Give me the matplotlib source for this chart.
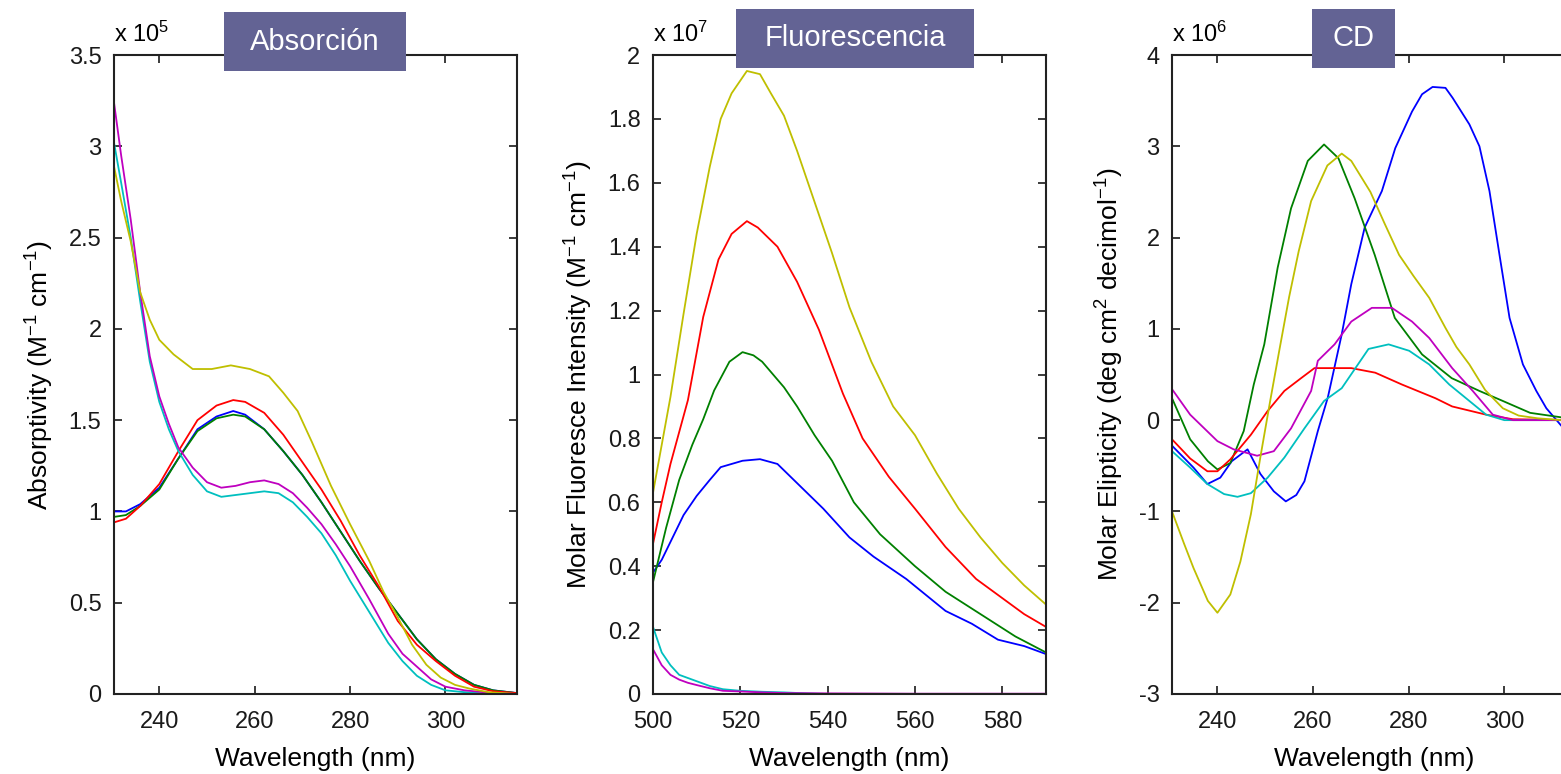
import matplotlib

matplotlib.use("Agg")
import matplotlib.pyplot as plt
from matplotlib.patches import Rectangle
from matplotlib.ticker import FuncFormatter

plt.rcParams["font.family"] = ["Liberation Sans", "DejaVu Sans"]
plt.rcParams["mathtext.fontset"] = "custom"
plt.rcParams["mathtext.rm"] = "Liberation Sans"
plt.rcParams["mathtext.default"] = "regular"

# MATLAB default line colours
colors = {"b": "#0000ff", "g": "#008000", "r": "#ff0000",
          "c": "#00bfbf", "m": "#bf00bf", "y": "#bfbf00"}

# --- Absorción (x 1e5) ---
abs_x = [230.5, 233, 236, 240, 244, 248, 252, 255.5, 258, 262, 266, 270, 274,
         278, 282, 286, 290, 294, 298, 302, 306, 310, 315]
abs_blue = [1.00, 1.00, 1.04, 1.13, 1.29, 1.45, 1.52, 1.55, 1.53, 1.45, 1.33, 1.20, 1.05,
            0.89, 0.73, 0.58, 0.44, 0.30, 0.19, 0.11, 0.05, 0.02, 0.005]
abs_green = [0.97, 0.98, 1.03, 1.12, 1.29, 1.44, 1.51, 1.53, 1.52, 1.45, 1.33, 1.20, 1.05,
             0.89, 0.73, 0.58, 0.44, 0.30, 0.19, 0.11, 0.05, 0.02, 0.005]
abs_red = [0.94, 0.96, 1.03, 1.15, 1.33, 1.50, 1.58, 1.61, 1.60, 1.54, 1.42, 1.27, 1.12,
           0.95, 0.76, 0.59, 0.40, 0.27, 0.18, 0.10, 0.04, 0.015, 0.005]
abs_yx = [230.5, 232, 234, 236, 238, 240, 243, 247, 251, 255, 259, 263, 266, 269, 272,
          276, 280, 284, 287, 290, 293, 296, 299, 302, 305, 309, 315]
abs_yellow = [2.89, 2.70, 2.48, 2.20, 2.05, 1.94, 1.86, 1.78, 1.78, 1.80, 1.78, 1.74, 1.65,
              1.55, 1.38, 1.14, 0.93, 0.73, 0.56, 0.42, 0.27, 0.16, 0.09, 0.05, 0.03, 0.01, 0.0]
abs_mx = [230.5, 232, 234, 236, 238, 240, 242, 244, 247, 250, 253, 256, 259, 262, 265,
          268, 271, 274, 277, 280, 284, 288, 291, 294, 297, 300, 304, 310, 315]
abs_magenta = [3.24, 2.95, 2.60, 2.20, 1.85, 1.63, 1.48, 1.35, 1.24, 1.16, 1.13, 1.14, 1.16,
               1.17, 1.15, 1.10, 1.02, 0.93, 0.82, 0.70, 0.52, 0.33, 0.22, 0.15, 0.08, 0.04,
               0.02, 0.005, 0.0]
abs_cyan = [3.02, 2.80, 2.50, 2.15, 1.82, 1.60, 1.45, 1.33, 1.20, 1.11, 1.08, 1.09, 1.10,
            1.11, 1.10, 1.05, 0.97, 0.88, 0.76, 0.62, 0.45, 0.28, 0.18, 0.10, 0.05, 0.02,
            0.01, 0.0, 0.0]

# --- Fluorescencia (x 1e7) ---
flu_bx = [500, 502, 504.5, 507, 510, 513, 515.5, 518, 520.5, 524.5, 528.5, 533, 539, 545,
          550.5, 558, 567, 573, 579, 585, 590]
flu_blue = [0.38, 0.42, 0.49, 0.56, 0.62, 0.67, 0.71, 0.72, 0.73, 0.735, 0.72, 0.66, 0.58,
            0.49, 0.43, 0.36, 0.26, 0.22, 0.17, 0.15, 0.125]
flu_gx = [500, 503, 506, 509, 511.5, 514, 517.5, 520.5, 523, 525, 530, 533, 537, 541, 546,
          552, 560, 567, 575, 583, 590]
flu_green = [0.35, 0.52, 0.67, 0.78, 0.86, 0.95, 1.04, 1.07, 1.06, 1.04, 0.96, 0.90, 0.81,
             0.73, 0.60, 0.50, 0.40, 0.32, 0.25, 0.18, 0.13]
flu_rx = [500, 502, 504, 508, 511.5, 515, 518, 521.5, 524, 528.5, 533, 538, 543.5, 548, 554,
          560, 567, 574, 580, 585, 590]
flu_red = [0.47, 0.60, 0.72, 0.92, 1.18, 1.36, 1.44, 1.48, 1.46, 1.40, 1.29, 1.14, 0.94,
           0.80, 0.68, 0.58, 0.46, 0.36, 0.30, 0.25, 0.21]
flu_cx = [500, 502, 504, 506, 508, 510, 513, 516, 520, 525, 530, 535, 540, 560, 590]
flu_cyan = [0.21, 0.13, 0.09, 0.06, 0.05, 0.04, 0.025, 0.015, 0.01, 0.007, 0.005, 0.002,
            0.0, 0.0, 0.0]
flu_mx = [500, 502, 504, 506, 508, 510, 513, 516, 520, 525, 530, 540, 560, 590]
flu_magenta = [0.14, 0.09, 0.06, 0.045, 0.035, 0.028, 0.018, 0.01, 0.008, 0.005, 0.003,
               0.002, 0.001, 0.001]
flu_yx = [500, 502, 504, 507, 510, 513, 515.5, 518, 521.5, 524.5, 527, 530, 533, 537, 541,
          545, 550, 555, 560, 565, 570, 575, 580, 585, 590]
flu_yellow = [0.63, 0.78, 0.93, 1.19, 1.44, 1.65, 1.80, 1.88, 1.95, 1.94, 1.88, 1.81, 1.70,
              1.54, 1.38, 1.21, 1.04, 0.90, 0.81, 0.69, 0.58, 0.49, 0.41, 0.34, 0.28]

# --- CD (x 1e6) ---
cd_bx = [230.5, 235, 237.9, 240.6, 243, 246.3, 249, 251.8, 254.3, 256.5, 258.2, 261, 263.1,
         266, 268, 270.8, 274.4, 277.2, 280.7, 282.8, 285, 287.7, 289.2, 292.7, 294.8, 296.9,
         299, 301.1, 303.9, 306.7, 308.8, 312.4, 316]
cd_blue = [-0.28, -0.52, -0.70, -0.63, -0.45, -0.32, -0.59, -0.78, -0.89, -0.82, -0.67,
           -0.12, 0.25, 0.94, 1.49, 2.11, 2.51, 2.98, 3.38, 3.57, 3.65, 3.64, 3.53, 3.24,
           3.00, 2.51, 1.81, 1.12, 0.61, 0.32, 0.13, -0.09, -0.15]
cd_gx = [230.5, 234.3, 238, 240, 242.7, 245.5, 247.6, 249.8, 252.6, 255.4, 258.9, 262.3,
         265.3, 268.7, 272.9, 277.1, 282.8, 289, 294.8, 299.7, 305.4, 316]
cd_green = [0.24, -0.21, -0.45, -0.54, -0.47, -0.12, 0.39, 0.83, 1.67, 2.32, 2.84, 3.02,
            2.87, 2.43, 1.81, 1.12, 0.72, 0.46, 0.32, 0.21, 0.08, 0.0]
cd_rx = [230.5, 234.3, 237.9, 240, 242.7, 247, 250.5, 254, 257.5, 260.3, 268, 273, 278.6,
         285.6, 289.1, 296.2, 301.8, 316]
cd_red = [-0.21, -0.42, -0.56, -0.56, -0.43, -0.16, 0.10, 0.32, 0.46, 0.57, 0.57, 0.52,
          0.39, 0.24, 0.15, 0.06, 0.01, 0.0]
cd_cx = [230.5, 234.3, 237.9, 241.4, 244.2, 247, 250.5, 254, 258.2, 262.3, 266, 271.6,
         275.8, 280.1, 284.3, 288.5, 292.7, 296.2, 300, 316]
cd_cyan = [-0.34, -0.52, -0.70, -0.81, -0.84, -0.80, -0.63, -0.41, -0.09, 0.21, 0.35, 0.78,
           0.83, 0.76, 0.61, 0.39, 0.21, 0.06, 0.0, 0.0]
cd_mx = [230.5, 234.3, 240, 243.4, 248.3, 251.8, 255.4, 259.6, 261, 264.5, 268, 272.3,
         276.5, 280.7, 284.3, 289.1, 293.4, 297.6, 301.8, 316]
cd_magenta = [0.34, 0.06, -0.23, -0.32, -0.39, -0.34, -0.09, 0.32, 0.65, 0.83, 1.08, 1.23,
              1.23, 1.08, 0.90, 0.57, 0.32, 0.06, 0.0, 0.0]
cd_yx = [230.5, 233, 235, 238, 240, 242.7, 244.8, 247, 249, 251, 253, 255, 257, 259.6, 263,
         266, 268, 272, 275, 278, 281, 284.3, 287.7, 290, 292.7, 296, 299.7, 303, 307, 312,
         316]
cd_yellow = [-1.0, -1.35, -1.62, -1.98, -2.11, -1.91, -1.55, -1.03, -0.40, 0.20, 0.78, 1.35,
             1.85, 2.40, 2.79, 2.92, 2.84, 2.50, 2.15, 1.81, 1.58, 1.34, 1.01, 0.80, 0.61,
             0.33, 0.13, 0.05, 0.02, 0.0, 0.0]

W, H = 1561, 774
fig = plt.figure(figsize=(W / 100, H / 100), dpi=100)


def px_axes(left, right, top, bottom):
    return fig.add_axes([left / W, (H - bottom) / H, (right - left) / W, (bottom - top) / H])


def style(ax, xlim, ylim, xticks, yticks, exponent, ylabel):
    ax.set_xlim(*xlim)
    ax.set_ylim(*ylim)
    ax.set_xticks(xticks)
    ax.set_yticks(yticks)
    ax.yaxis.set_major_formatter(FuncFormatter(lambda v, _: f"{v:g}"))
    ax.tick_params(direction="in", length=6, width=1.2, top=True, right=True,
                   labelsize=17, colors="#1a1a1a")
    ax.tick_params(axis="x", pad=12)
    ax.tick_params(axis="y", pad=9)
    for s in ax.spines.values():
        s.set_linewidth(1.5)
        s.set_color("#222222")
    ax.set_xlabel("Wavelength (nm)", fontsize=19, labelpad=10)
    ax.set_ylabel(ylabel, fontsize=19, labelpad=9)
    ax.text(0, 1.012, "x 10$^{%d}$" % exponent, transform=ax.transAxes,
            ha="left", va="bottom", fontsize=17)


def title_box(left, right, top, bottom, label):
    fig.add_artist(Rectangle((left / W, (H - bottom) / H), (right - left) / W, (bottom - top) / H,
                             transform=fig.transFigure, facecolor="#636394", edgecolor="none",
                             zorder=5))
    fig.text((left + right) / 2 / W, (H - (top + bottom) / 2) / H, label, color="white",
             fontsize=21, ha="center", va="center", zorder=6)


lw = 1.3

ax1 = px_axes(114, 517, 55, 694)
ax1.plot(abs_x, abs_blue, color=colors["b"], lw=lw)
ax1.plot(abs_x, abs_green, color=colors["g"], lw=lw)
ax1.plot(abs_x, abs_red, color=colors["r"], lw=lw)
ax1.plot(abs_mx, abs_cyan, color=colors["c"], lw=lw)
ax1.plot(abs_mx, abs_magenta, color=colors["m"], lw=lw)
ax1.plot(abs_yx, abs_yellow, color=colors["y"], lw=lw)
style(ax1, (230.5, 315), (0, 3.5), [240, 260, 280, 300], [0, 0.5, 1, 1.5, 2, 2.5, 3, 3.5],
      5, "Absorptivity (M$^{-1}$ cm$^{-1}$)")

ax2 = px_axes(653, 1046, 55, 694)
ax2.plot(flu_bx, flu_blue, color=colors["b"], lw=lw)
ax2.plot(flu_gx, flu_green, color=colors["g"], lw=lw)
ax2.plot(flu_rx, flu_red, color=colors["r"], lw=lw)
ax2.plot(flu_cx, flu_cyan, color=colors["c"], lw=lw)
ax2.plot(flu_mx, flu_magenta, color=colors["m"], lw=lw)
ax2.plot(flu_yx, flu_yellow, color=colors["y"], lw=lw)
style(ax2, (500, 590), (0, 2), [500, 520, 540, 560, 580],
      [0, 0.2, 0.4, 0.6, 0.8, 1, 1.2, 1.4, 1.6, 1.8, 2],
      7, "Molar Fluoresce Intensity (M$^{-1}$ cm$^{-1}$)")

ax3 = px_axes(1172, 1576, 55, 694)
ax3.plot(cd_bx, cd_blue, color=colors["b"], lw=lw)
ax3.plot(cd_gx, cd_green, color=colors["g"], lw=lw)
ax3.plot(cd_rx, cd_red, color=colors["r"], lw=lw)
ax3.plot(cd_cx, cd_cyan, color=colors["c"], lw=lw)
ax3.plot(cd_mx, cd_magenta, color=colors["m"], lw=lw)
ax3.plot(cd_yx, cd_yellow, color=colors["y"], lw=lw)
style(ax3, (230.5, 315), (-3, 4), [240, 260, 280, 300], [-3, -2, -1, 0, 1, 2, 3, 4],
      6, "Molar Elipticity (deg cm$^{2}$ decimol$^{-1}$)")

title_box(224, 406, 12, 71, "Absorción")
title_box(736, 974, 9, 68, "Fluorescencia")
title_box(1312, 1395, 9, 68, "CD")

fig.savefig("out.png", dpi=100)
